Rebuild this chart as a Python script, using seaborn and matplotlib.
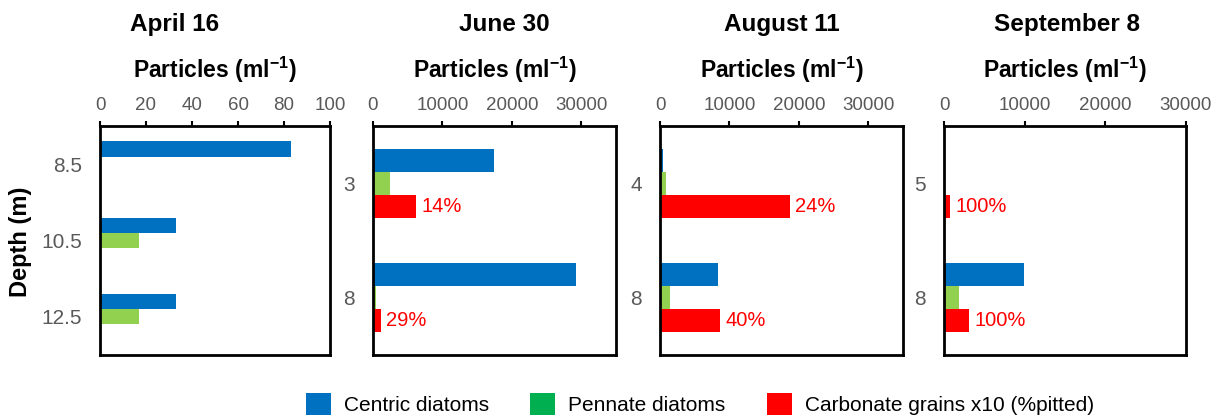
import numpy as np
import pandas as pd
import matplotlib
matplotlib.use("Agg")
import matplotlib.pyplot as plt
import seaborn as sns
from matplotlib.patches import Patch

# Sampling dates and the depths sampled on each date
dates = ["April 16", "June 30", "August 11", "September 8"]
depths = [["8.5", "10.5", "12.5"], ["3", "8"], ["4", "8"], ["5", "8"]]

# Particle concentrations (ml^-1); carbonate grains are already multiplied by 10
centric = [[83, 33, 33], [17400, 29300], [450, 8400], [0, 9950]]
pennate = [[0, 17, 17], [2500, 450], [800, 1400], [0, 1800]]
carbonate = [[0, 0, 0], [6200, 1100], [18700, 8700], [700, 3100]]
pitted = [["", "", ""], ["14%", "29%"], ["24%", "40%"], ["100%", "100%"]]

x_limits = [100, 35000, 35000, 30000]
x_ticks = [[0, 20, 40, 60, 80, 100],
           [0, 10000, 20000, 30000],
           [0, 10000, 20000, 30000],
           [0, 10000, 20000, 30000]]

series = ["Centric diatoms", "Pennate diatoms", "Carbonate grains x10 (%pitted)"]
bar_colors = ["#0070C0", "#92D050", "#FF0000"]
legend_colors = ["#0070C0", "#00B050", "#FF0000"]

rows = []
for i, date in enumerate(dates):
    for j, dep in enumerate(depths[i]):
        for name, vals in zip(series, [centric, pennate, carbonate]):
            rows.append({"date": date, "depth": dep, "type": name, "value": vals[i][j]})
df = pd.DataFrame(rows)

sns.set_style("white")
plt.rcParams["font.family"] = ["Liberation Sans", "DejaVu Sans"]
plt.rcParams["text.color"] = "black"
plt.rcParams["mathtext.fontset"] = "custom"
plt.rcParams["mathtext.rm"] = "Liberation Sans"
plt.rcParams["mathtext.bf"] = "Liberation Sans:bold"

W, H = 1223, 418
fig = plt.figure(figsize=(W / 100, H / 100), dpi=100)

# axes boxes in pixels: left, right
boxes = [(100, 330), (373, 616), (660, 903), (944, 1186)]
top_px, bottom_px = 126, 355
title_x = [175, 504, 782, 1067]

gray = "#595959"
for i, date in enumerate(dates):
    l, r = boxes[i]
    ax = fig.add_axes([l / W, (H - bottom_px) / H, (r - l) / W, (bottom_px - top_px) / H])
    d = df[df["date"] == date]
    sns.barplot(data=d, x="value", y="depth", hue="type", order=depths[i],
                hue_order=series, palette=bar_colors, orient="h", width=0.6,
                saturation=1, errorbar=None, legend=False, ax=ax,
                edgecolor="none")
    ax.set_xlim(0, x_limits[i])
    ax.set_xticks(x_ticks[i])
    ax.set_ylim(len(depths[i]) - 0.5, -0.5)
    ax.xaxis.tick_top()
    ax.set_xlabel("")
    ax.set_ylabel("")
    ax.tick_params(axis="x", direction="out", length=3.5, width=1.5, color="black",
                   labelcolor=gray, labelsize=13.5, pad=5)
    ax.tick_params(axis="y", length=0, pad=13, labelcolor=gray, labelsize=15)
    for s in ax.spines.values():
        s.set_visible(True)
        s.set_color("black")
        s.set_linewidth(2)
    ax.grid(False)
    # pitted fraction next to the carbonate bars
    ax.bar_label(ax.containers[2], labels=pitted[i], padding=4, color="#FF0000", fontsize=14.5)
    fig.text((l + r) / 2 / W, 1 - 77.5 / H, r"Particles (ml$^{\mathbf{-1}}$)",
             ha="center", va="baseline", fontsize=16.5, fontweight="bold", color="black")
    fig.text(title_x[i] / W, 1 - 31 / H, date, ha="center", va="baseline",
             fontsize=17.5, fontweight="bold", color="black")

fig.text(21 / W, 1 - 242 / H, "Depth (m)", rotation=90, ha="center", va="center",
         fontsize=17, fontweight="bold", color="black")

handles = [Patch(facecolor=c, edgecolor="none") for c in legend_colors]
leg = fig.legend(handles, series, loc="center", bbox_to_anchor=(700 / W, 1 - 404 / H), ncol=3,
                 frameon=False, fontsize=15, handlelength=1.2, handleheight=1.2,
                 handletextpad=0.62, columnspacing=2.0, borderpad=0)
for t in leg.get_texts():
    t.set_color("black")

fig.savefig("out.png", dpi=100)
